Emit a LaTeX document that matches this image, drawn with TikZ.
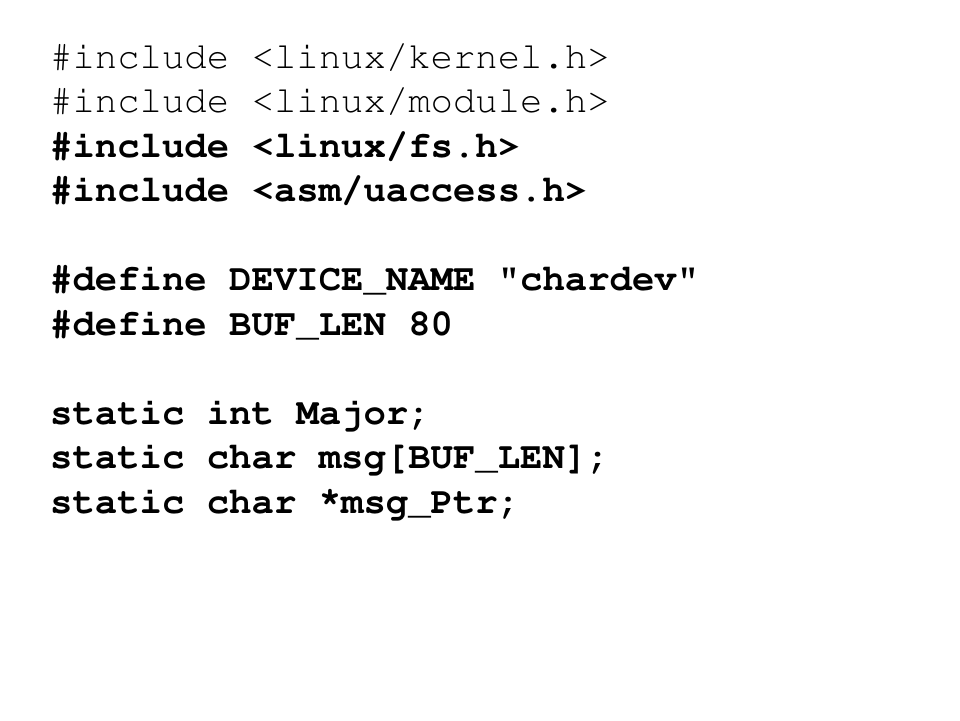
\documentclass[tikz,border=0pt]{standalone}
\usepackage{tikz}
\tikzset{codeline/.style={anchor=base west, inner sep=0pt, font=\fontencoding{T1}\fontfamily{pcr}\fontsize{37.3}{44}\selectfont}}
\tikzset{boldline/.style={codeline, font=\fontencoding{T1}\fontfamily{pcr}\fontsize{37.3}{44}\bfseries\selectfont}}
\newcommand{\rstar}{\raisebox{0.17em}{*}}

\begin{document}
\begin{tikzpicture}[x=1pt,y=-1pt]
		\useasboundingbox[fill=white] (0,0) rectangle (960,720);
		\node[codeline] (inckernel) at (50,68) {\#include <linux/kernel.h>};
		\node[codeline] (incmodule) at (50,112.5) {\#include <linux/module.h>};
		\node[boldline] (incfs) at (50,157) {\#include <linux/fs.h>};
		\node[boldline] (incuaccess) at (50,201.5) {\#include <asm/uaccess.h>};
		\node[boldline] (defname) at (50,290.5) {\#define DEVICE\_NAME "chardev"};
		\node[boldline] (deflen) at (50,335) {\#define BUF\_LEN 80};
		\node[boldline] (major) at (50,424) {static int Major;};
		\node[boldline] (msg) at (50,468.5) {static char msg[BUF\_LEN];};
		\node[boldline] (msgptr) at (50,513) {static char \rstar msg\_Ptr;};
		\end{tikzpicture}
\end{document}
